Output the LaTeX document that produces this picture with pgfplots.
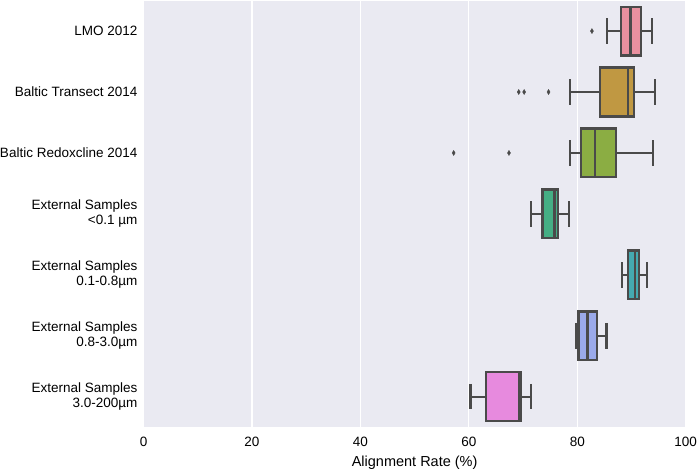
\documentclass[border=0pt]{standalone}
\usepackage{pgfplots}
\pgfplotsset{compat=1.18}
\usepgfplotslibrary{statistics}
\usepackage{fontspec}
\setmainfont{Liberation Sans}
\definecolor{bg}{HTML}{EAEAF2}
\definecolor{bgray}{HTML}{4A4A4A}
\definecolor{c1}{HTML}{E8909F}
\definecolor{c2}{HTML}{C09842}
\definecolor{c3}{HTML}{8BAD43}
\definecolor{c4}{HTML}{45AE84}
\definecolor{c5}{HTML}{45A9B0}
\definecolor{c6}{HTML}{9BAAEA}
\definecolor{c7}{HTML}{E78ADE}
\begin{document}
\fontsize{13.6}{15.2}\selectfont
\begin{tikzpicture}
\begin{axis}[
  scale only axis,
  width=544bp, height=428bp,
  xmin=0, xmax=100, ymin=0.5, ymax=7.5,
  y dir=reverse,
  axis background/.style={fill=bg},
  axis line style={draw=none},
  xmajorgrids, major grid style={white, line width=1.2pt},
  xtick={0,20,40,60,80,100},
  ytick={1,2,3,4,5,6,7},
  yticklabels={LMO 2012, Baltic Transect 2014, Baltic Redoxcline 2014, {External Samples\\<0.1 µm}, {External Samples\\0.1-0.8µm}, {External Samples\\0.8-3.0µm}, {External Samples\\3.0-200µm}},
  yticklabel style={align=right, font=\fontsize{13.6}{15.2}\selectfont, inner xsep=0pt, xshift=-6bp},
  xticklabel style={font=\fontsize{13.6}{15.2}\selectfont, inner sep=0pt, yshift=-10bp},
  major tick length=0pt,
  /pgf/number format/assume math mode=true,
  xlabel={Alignment Rate (\%)},
  xlabel style={font=\fontsize{14.6}{16}\selectfont, inner sep=0pt, at={(axis description cs:0.5,0)}, anchor=north, yshift=-29bp},
]
\pgfplotsset{mybox/.style={draw=bgray, line width=2.3pt, solid, mark=diamond*, mark size=2.6pt,
  mark options={fill=bgray, draw=bgray, line width=0.3pt, xscale=0.8}}}
\addplot[mybox, boxplot prepared={draw position=1, lower whisker=85.5, lower quartile=88.0, median=89.8, upper quartile=91.7, upper whisker=93.8, box extend=0.8, whisker extend=0.42, every box/.style={draw=bgray, fill=c1}}] coordinates {(0,82.7)};
\addplot[mybox, boxplot prepared={draw position=2, lower whisker=78.6, lower quartile=84.2, median=89.3, upper quartile=90.4, upper whisker=94.3, box extend=0.8, whisker extend=0.42, every box/.style={draw=bgray, fill=c2}}] coordinates {(0,69.2) (0,70.2) (0,74.7)};
\addplot[mybox, boxplot prepared={draw position=3, lower whisker=78.6, lower quartile=80.7, median=83.2, upper quartile=87.2, upper whisker=93.9, box extend=0.8, whisker extend=0.42, every box/.style={draw=bgray, fill=c3}}] coordinates {(0,57.2) (0,67.4)};
\addplot[mybox, boxplot prepared={draw position=4, lower whisker=71.4, lower quartile=73.6, median=75.8, upper quartile=76.4, upper whisker=78.5, box extend=0.8, whisker extend=0.42, every box/.style={draw=bgray, fill=c4}}] coordinates {};
\addplot[mybox, boxplot prepared={draw position=5, lower whisker=88.3, lower quartile=89.4, median=90.7, upper quartile=91.4, upper whisker=92.9, box extend=0.8, whisker extend=0.42, every box/.style={draw=bgray, fill=c5}}] coordinates {};
\addplot[mybox, boxplot prepared={draw position=6, lower whisker=79.7, lower quartile=80.2, median=81.9, upper quartile=83.6, upper whisker=85.4, box extend=0.8, whisker extend=0.42, every box/.style={draw=bgray, fill=c6}}] coordinates {};
\addplot[mybox, boxplot prepared={draw position=7, lower whisker=60.3, lower quartile=63.1, median=69.3, upper quartile=69.5, upper whisker=71.4, box extend=0.8, whisker extend=0.42, every box/.style={draw=bgray, fill=c7}}] coordinates {};
\end{axis}
\end{tikzpicture}
\end{document}
